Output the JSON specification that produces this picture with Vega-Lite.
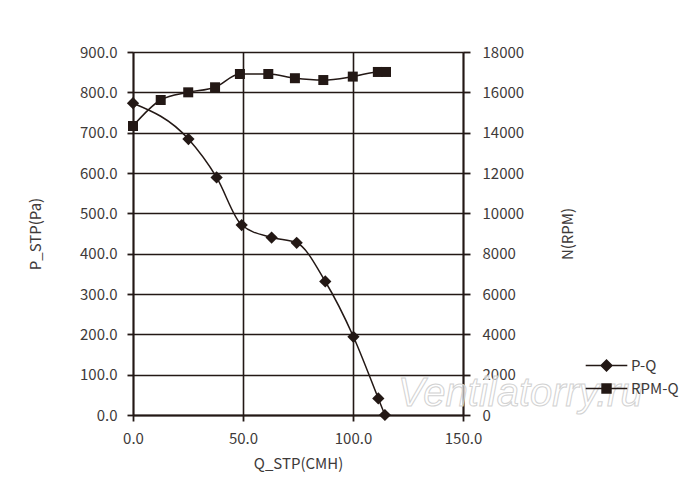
{
  "$schema": "https://vega.github.io/schema/vega-lite/v6.json",
  "width": 330,
  "height": 363,
  "autosize": {"type": "none"},
  "padding": {"left": 133, "top": 52, "right": 237, "bottom": 79},
  "background": "white",
  "config": {
    "view": {"stroke": null},
    "font": "Noto Sans CJK SC",
    "axis": {
      "labelFont": "Noto Sans CJK SC",
      "titleFont": "Noto Sans CJK SC",
      "labelFontSize": 15,
      "titleFontSize": 15,
      "labelColor": "#3e3a39",
      "titleColor": "#3e3a39",
      "titleFontWeight": "normal",
      "domainColor": "#231815",
      "domainWidth": 1.8,
      "tickColor": "#231815",
      "tickWidth": 1.8,
      "tickSize": 6,
      "gridColor": "#231815",
      "gridWidth": 1.6,
      "gridOpacity": 1,
      "labelFlush": false
    }
  },
  "datasets": {
    "pq": [
      {"Q": 0, "P": 773},
      {"Q": 25.2, "P": 684},
      {"Q": 38, "P": 589},
      {"Q": 49.4, "P": 471},
      {"Q": 63, "P": 440},
      {"Q": 74.4, "P": 427},
      {"Q": 87.4, "P": 331},
      {"Q": 100.2, "P": 194},
      {"Q": 111.5, "P": 41},
      {"Q": 114.5, "P": 0}
    ],
    "rpm": [
      {"Q": 0, "N": 14330},
      {"Q": 12.6, "N": 15620},
      {"Q": 25.1, "N": 16000},
      {"Q": 37.3, "N": 16250},
      {"Q": 48.6, "N": 16910},
      {"Q": 61.5, "N": 16910},
      {"Q": 73.6, "N": 16700},
      {"Q": 86.5, "N": 16610},
      {"Q": 99.9, "N": 16780},
      {"Q": 111.3, "N": 17010},
      {"Q": 115, "N": 17010}
    ],
    "wm": [
      {"Q": 120.5, "P": 22, "label": "Ventilatorry.ru"}
    ],
    "empty": []
  },
  "encoding": {
    "x": {
      "field": "Q",
      "type": "quantitative",
      "scale": {"domain": [0, 150], "nice": false},
      "axis": {
        "values": [0, 50, 100, 150],
        "format": ".1f",
        "title": "Q_STP(CMH)",
        "grid": true,
        "labelPadding": 10,
        "titlePadding": 10
      }
    }
  },
  "layer": [
    {
      "data": {"name": "pq"},
      "encoding": {
        "y": {
          "field": "P",
          "type": "quantitative",
          "scale": {"domain": [0, 900], "nice": false},
          "axis": {
            "orient": "left",
            "values": [0, 100, 200, 300, 400, 500, 600, 700, 800, 900],
            "format": ".1f",
            "title": "P_STP(Pa)",
            "grid": true,
            "labelPadding": 10,
            "titlePadding": 36
          }
        }
      },
      "layer": [
        {
          "mark": {"type": "line", "interpolate": "monotone", "color": "#231815", "strokeWidth": 1.5}
        },
        {
          "mark": {"type": "point", "shape": "diamond", "filled": true, "size": 150, "opacity": 1, "color": "#231815"}
        },
        {
          "data": {"name": "empty"},
          "mark": {"type": "point", "filled": true, "color": "#231815"},
          "encoding": {
            "shape": {
              "datum": "P-Q",
              "type": "nominal",
              "scale": {
                "domain": ["P-Q", "RPM-Q"],
                "range": [
                  "M-3.2,-0.12H3.2V0.12H-3.2Z M0,-1L1,0L0,1L-1,0Z",
                  "M-3.2,-0.12H3.2V0.12H-3.2Z M-0.8,-0.8H0.8V0.8H-0.8Z"
                ]
              },
              "legend": {
                "title": null,
                "orient": "none",
                "legendX": 466,
                "legendY": 306,
                "padding": 0,
                "labelOffset": 17,
                "rowPadding": 5,
                "labelFont": "Noto Sans CJK SC",
                "labelFontSize": 15,
                "labelColor": "#3e3a39",
                "symbolSize": 169,
                "symbolOpacity": 1,
                "symbolFillColor": "#231815"
              }
            }
          }
        },
        {
          "data": {"name": "wm"},
          "mark": {
            "type": "text",
            "align": "left",
            "baseline": "alphabetic",
            "font": "Liberation Sans",
            "fontStyle": "italic",
            "fontSize": 40,
            "fill": "#ffffff",
            "fillOpacity": 0.6,
            "stroke": "#d2d2d2",
            "strokeWidth": 1
          },
          "encoding": {"text": {"field": "label"}}
        }
      ]
    },
    {
      "data": {"name": "rpm"},
      "encoding": {
        "y": {
          "field": "N",
          "type": "quantitative",
          "scale": {"domain": [0, 18000], "nice": false},
          "axis": {
            "orient": "right",
            "values": [0, 2000, 4000, 6000, 8000, 10000, 12000, 14000, 16000, 18000],
            "format": "d",
            "title": "N(RPM)",
            "titleAngle": 270,
            "grid": false,
            "tickSize": 7,
            "labelPadding": 12,
            "titlePadding": 52
          }
        }
      },
      "layer": [
        {
          "mark": {"type": "line", "interpolate": "monotone", "color": "#231815", "strokeWidth": 1.5}
        },
        {
          "mark": {"type": "point", "shape": "square", "filled": true, "size": 100, "opacity": 1, "color": "#231815"}
        }
      ]
    }
  ],
  "resolve": {"scale": {"y": "independent"}}
}
